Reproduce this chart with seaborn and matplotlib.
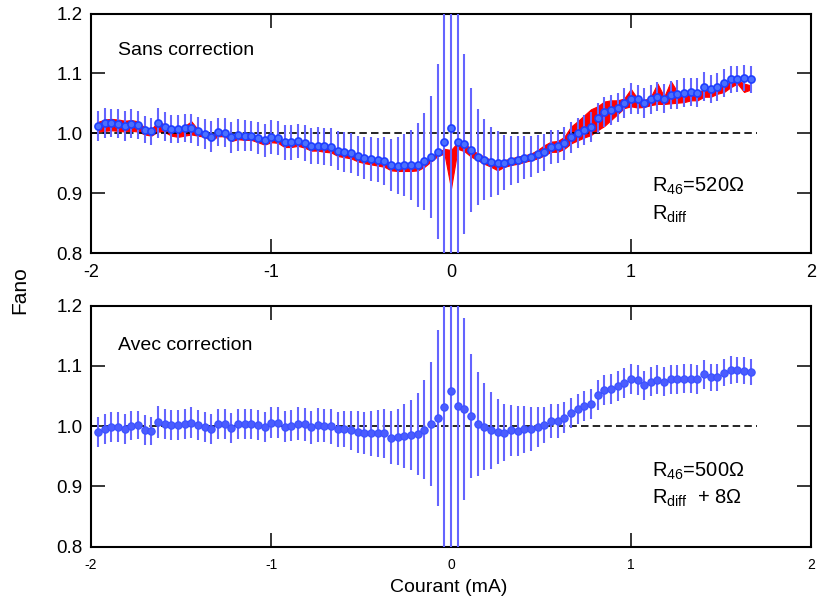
import numpy as np
import matplotlib
matplotlib.use('Agg')
import matplotlib.pyplot as plt
import seaborn as sns
import pandas as pd

# current sweep (mA), 99 points, step 0.037 mA
current = np.linspace(-1.961, 1.665, 99)

# Fano, sans correction (top panel)
fano_sans = [
    1.012, 1.017, 1.017, 1.016, 1.012, 1.016, 1.014, 1.006, 1.003, 1.017,
    1.011, 1.007, 1.007, 1.009, 1.008, 1.003, 0.999, 0.994, 1.002, 1.001,
    0.993, 0.997, 0.996, 0.996, 0.992, 0.988, 0.994, 0.992, 0.985, 0.985,
    0.987, 0.984, 0.979, 0.979, 0.978, 0.977, 0.971, 0.969, 0.967, 0.962,
    0.959, 0.957, 0.955, 0.954, 0.947, 0.946, 0.947, 0.947, 0.947, 0.953,
    0.961, 0.969, 0.986, 1.009, 0.986, 0.982, 0.972, 0.961, 0.956, 0.952,
    0.950, 0.951, 0.954, 0.956, 0.959, 0.961, 0.965, 0.968, 0.977, 0.978,
    0.983, 0.993, 1.001, 1.006, 1.011, 1.026, 1.036, 1.039, 1.043, 1.051,
    1.058, 1.057, 1.050, 1.057, 1.061, 1.058, 1.064, 1.065, 1.068, 1.069,
    1.068, 1.078, 1.074, 1.077, 1.084, 1.090, 1.091, 1.092, 1.090,
]
err_sans = [
    0.025, 0.025, 0.024, 0.024, 0.025, 0.024, 0.024, 0.023, 0.022, 0.025,
    0.024, 0.023, 0.024, 0.024, 0.024, 0.024, 0.025, 0.026, 0.024, 0.024,
    0.026, 0.026, 0.026, 0.025, 0.026, 0.027, 0.028, 0.029, 0.029, 0.029,
    0.029, 0.030, 0.030, 0.031, 0.031, 0.031, 0.032, 0.033, 0.033, 0.033,
    0.035, 0.036, 0.037, 0.040, 0.043, 0.047, 0.051, 0.058, 0.070, 0.081,
    0.102, 0.146, 0.300, 0.500, 0.300, 0.151, 0.103, 0.080, 0.067, 0.058,
    0.053, 0.046, 0.041, 0.039, 0.036, 0.034, 0.032, 0.031, 0.029, 0.028,
    0.028, 0.026, 0.025, 0.025, 0.025, 0.025, 0.025, 0.025, 0.024, 0.025,
    0.026, 0.024, 0.025, 0.024, 0.024, 0.024, 0.024, 0.024, 0.024, 0.024,
    0.024, 0.024, 0.023, 0.023, 0.023, 0.022, 0.022, 0.022, 0.022,
]
# red band (range of Fano values with R_diff)
band_lo = [
    1.003, 1.004, 1.005, 1.004, 1.003, 1.004, 1.003, 0.998, 0.996, 1.003,
    1.002, 0.996, 0.994, 0.996, 0.998, 0.996, 0.994, 0.988, 0.995, 0.995,
    0.987, 0.990, 0.989, 0.989, 0.985, 0.981, 0.985, 0.984, 0.977, 0.977,
    0.979, 0.976, 0.971, 0.971, 0.969, 0.968, 0.962, 0.960, 0.958, 0.953,
    0.950, 0.948, 0.946, 0.944, 0.938, 0.937, 0.937, 0.937, 0.938, 0.944,
    0.953, 0.962, 0.966, 0.908, 0.974, 0.970, 0.961, 0.955, 0.949, 0.944,
    0.938, 0.944, 0.947, 0.949, 0.952, 0.955, 0.958, 0.963, 0.969, 0.969,
    0.974, 0.983, 0.988, 0.993, 0.997, 1.005, 1.012, 1.022, 1.032, 1.042,
    1.045, 1.043, 1.044, 1.047, 1.049, 1.049, 1.050, 1.051, 1.052, 1.055,
    1.055, 1.061, 1.061, 1.066, 1.069, 1.077, 1.083, 1.069, 1.073,
]
band_hi = [
    1.019, 1.023, 1.024, 1.023, 1.021, 1.022, 1.020, 1.009, 1.007, 1.019,
    1.015, 1.010, 1.009, 1.012, 1.020, 1.006, 1.001, 0.997, 1.004, 1.003,
    0.995, 0.999, 0.998, 0.998, 0.994, 0.990, 0.994, 0.993, 0.986, 0.986,
    0.988, 0.985, 0.980, 0.980, 0.979, 0.978, 0.972, 0.970, 0.968, 0.963,
    0.960, 0.958, 0.956, 0.955, 0.948, 0.947, 0.948, 0.948, 0.948, 0.953,
    0.961, 0.968, 0.974, 0.972, 0.985, 0.983, 0.974, 0.966, 0.961, 0.955,
    0.952, 0.955, 0.958, 0.961, 0.963, 0.966, 0.972, 0.980, 0.986, 0.987,
    0.994, 1.011, 1.020, 1.030, 1.040, 1.045, 1.053, 1.055, 1.055, 1.058,
    1.074, 1.058, 1.055, 1.061, 1.083, 1.061, 1.087, 1.069, 1.066, 1.067,
    1.069, 1.073, 1.072, 1.076, 1.080, 1.086, 1.089, 1.083, 1.080,
]

# Fano, avec correction (bottom panel)
fano_avec = [
    0.991, 0.996, 0.999, 0.999, 0.996, 1.001, 1.002, 0.994, 0.992, 1.007,
    1.004, 1.002, 1.002, 1.004, 1.006, 1.002, 0.999, 0.996, 1.004, 1.004,
    0.997, 1.003, 1.003, 1.003, 1.002, 0.999, 1.006, 1.006, 0.999, 1.001,
    1.004, 1.003, 0.998, 1.002, 1.001, 1.000, 0.995, 0.996, 0.993, 0.991,
    0.989, 0.988, 0.988, 0.988, 0.981, 0.982, 0.984, 0.985, 0.987, 0.994,
    1.004, 1.014, 1.032, 1.058, 1.033, 1.028, 1.017, 1.004, 0.999, 0.993,
    0.991, 0.989, 0.993, 0.992, 0.995, 0.995, 0.999, 1.002, 1.009, 1.009,
    1.014, 1.022, 1.029, 1.033, 1.037, 1.052, 1.060, 1.061, 1.066, 1.072,
    1.079, 1.077, 1.068, 1.074, 1.077, 1.074, 1.078, 1.078, 1.079, 1.079,
    1.078, 1.086, 1.081, 1.081, 1.089, 1.093, 1.093, 1.092, 1.090,
]
err_avec = [
    0.025, 0.025, 0.025, 0.025, 0.025, 0.024, 0.024, 0.025, 0.024, 0.026,
    0.025, 0.025, 0.025, 0.025, 0.025, 0.025, 0.025, 0.025, 0.025, 0.025,
    0.025, 0.025, 0.025, 0.025, 0.025, 0.025, 0.026, 0.026, 0.026, 0.026,
    0.027, 0.027, 0.027, 0.028, 0.028, 0.029, 0.029, 0.030, 0.032, 0.035,
    0.035, 0.037, 0.039, 0.041, 0.044, 0.047, 0.053, 0.058, 0.068, 0.082,
    0.103, 0.146, 0.300, 0.500, 0.300, 0.151, 0.103, 0.086, 0.072, 0.064,
    0.054, 0.047, 0.042, 0.041, 0.039, 0.036, 0.033, 0.030, 0.028, 0.028,
    0.026, 0.025, 0.025, 0.025, 0.025, 0.025, 0.025, 0.025, 0.025, 0.025,
    0.025, 0.025, 0.024, 0.024, 0.024, 0.024, 0.024, 0.024, 0.024, 0.024,
    0.024, 0.024, 0.023, 0.023, 0.023, 0.023, 0.022, 0.022, 0.022,
]

x_ticks = [-2, -1, 0, 1, 2]
y_ticks = [0.8, 0.9, 1.0, 1.1, 1.2]
ref_x = [-2, 1.7]

sns.set_style('ticks')
plt.rcParams['font.family'] = ['Liberation Sans', 'DejaVu Sans']
plt.rcParams['mathtext.fontset'] = 'custom'
plt.rcParams['mathtext.rm'] = 'Liberation Sans'
plt.rcParams['text.color'] = 'black'
plt.rcParams['axes.labelcolor'] = 'black'

df_top = pd.DataFrame({'I': current, 'F': fano_sans})
df_bot = pd.DataFrame({'I': current, 'F': fano_avec})

fig = plt.figure(figsize=(8.17, 6.03), dpi=100)
ax1 = fig.add_axes([0.1114, 0.5804, 0.8813, 0.3972])
ax2 = fig.add_axes([0.1114, 0.0934, 0.8813, 0.3997])

bar_col = '#6464ff'

def style_axes(ax, xlabsize):
    ax.set_xlim(-2, 2)
    ax.set_ylim(0.8, 1.2)
    ax.set_xticks(x_ticks)
    ax.set_yticks(y_ticks)
    ax.set_xticklabels([str(t) for t in x_ticks])
    ax.set_yticklabels([f'{t:.1f}' for t in y_ticks])
    ax.tick_params(axis='both', direction='in', length=10, width=1.1,
                   top=True, right=True, colors='black')
    ax.tick_params(axis='y', labelsize=13.5, pad=6)
    ax.tick_params(axis='x', labelsize=xlabsize, pad=8)
    for s in ax.spines.values():
        s.set_linewidth(1.5)
        s.set_color('black')
    ax.set_xlabel('')
    ax.set_ylabel('')

# top panel
ax1.fill_between(current, band_lo, band_hi, color='#ff0000', lw=0.8,
                 edgecolor='#ff0000', zorder=2)
sns.lineplot(x=ref_x, y=[1.0, 1.0], ax=ax1, color='black', lw=1.2,
             zorder=2.5)
ax1.lines[-1].set_dashes((4.5, 2.5))
ax1.errorbar(current, fano_sans, yerr=err_sans, fmt='none', ecolor=bar_col,
             elinewidth=1.5, capsize=0, zorder=3)
sns.scatterplot(data=df_top, x='I', y='F', ax=ax1, s=26, color='#4a70ff',
                edgecolor='#1f3fff', linewidth=1.2, zorder=4)
style_axes(ax1, 13)
ax1.text(-1.85, 1.130, 'Sans correction', fontsize=14)
ax1.text(1.117, 0.902, r'$\mathregular{R_{46}}$=520Ω', fontsize=14.5)
ax1.text(1.117, 0.856, r'$\mathregular{R_{diff}}$', fontsize=14.5)

# bottom panel
sns.lineplot(x=ref_x, y=[1.0, 1.0], ax=ax2, color='black', lw=1.2, zorder=2.5)
ax2.lines[-1].set_dashes((4.5, 2.5))
ax2.errorbar(current, fano_avec, yerr=err_avec, fmt='none', ecolor=bar_col,
             elinewidth=1.5, capsize=0, zorder=3)
sns.scatterplot(data=df_bot, x='I', y='F', ax=ax2, s=28, color='#4a5cff',
                edgecolor='#3a50ff', linewidth=0.8, zorder=4)
style_axes(ax2, 10)
ax2.text(-1.85, 1.127, 'Avec correction', fontsize=14)
ax2.text(1.115, 0.9155, r'$\mathregular{R_{46}}$=500Ω', fontsize=14.5)
ax2.text(1.115, 0.872, r'$\mathregular{R_{diff}}$  + 8Ω', fontsize=14.5)

fig.text(20 / 817, 0.519, 'Fano', rotation=90, fontsize=15,
         ha='center', va='center')
fig.text(449 / 817, 0.025, 'Courant (mA)', fontsize=14, ha='center',
         va='center')

fig.savefig('out.png', dpi=100)
